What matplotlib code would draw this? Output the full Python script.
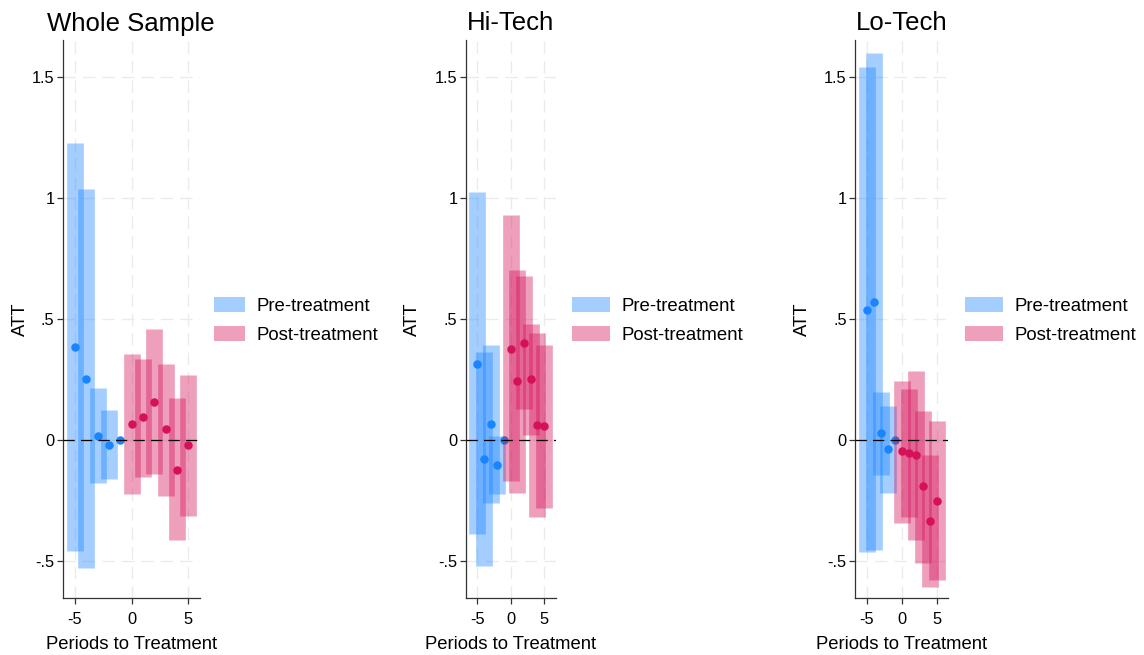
import numpy as np
import matplotlib
matplotlib.use("Agg")
import matplotlib.pyplot as plt
import matplotlib.patches as mpatches

plt.rcParams['font.family'] = ['Liberation Sans', 'DejaVu Sans']

# event time
periods = np.array([-5, -4, -3, -2, -1, 0, 1, 2, 3, 4, 5])

# Whole Sample
whole_att = [0.385, 0.255, 0.019, -0.018, 0.0, 0.066, 0.095, 0.159, 0.045, -0.121, -0.021]
whole_lo = [-0.458, -0.528, -0.178, -0.158, 0.0, -0.220, -0.150, -0.141, -0.228, -0.413, -0.314]
whole_hi = [1.228, 1.038, 0.215, 0.125, 0.0, 0.355, 0.335, 0.458, 0.314, 0.174, 0.269]

# Hi-Tech
hitech_att = [0.317, -0.078, 0.067, -0.102, 0.0, 0.378, 0.245, 0.403, 0.253, 0.062, 0.058]
hitech_lo = [-0.388, -0.520, -0.257, -0.220, 0.0, -0.169, -0.216, 0.129, 0.022, -0.318, -0.281]
hitech_hi = [1.026, 0.363, 0.392, 0.016, 0.0, 0.930, 0.704, 0.679, 0.481, 0.442, 0.395]

# Lo-Tech
lotech_att = [0.540, 0.572, 0.029, -0.037, 0.0, -0.044, -0.054, -0.062, -0.190, -0.332, -0.249]
lotech_lo = [-0.463, -0.454, -0.143, -0.216, 0.0, -0.340, -0.315, -0.413, -0.506, -0.604, -0.578]
lotech_hi = [1.541, 1.599, 0.201, 0.140, 0.0, 0.243, 0.212, 0.288, 0.119, -0.062, 0.078]

titles = ['Whole Sample', 'Hi-Tech', 'Lo-Tech']
ytick_vals = [-0.5, 0, 0.5, 1, 1.5]
ytick_labels = ['-.5', '0', '.5', '1', '1.5']
xtick_vals = [-5, 0, 5]

BLUE = '#1A85FF'
RED = '#D41159'
W, H = 1144, 655

fig = plt.figure(figsize=(W / 100, H / 100), dpi=100)

# pixel boxes of the three plot regions
panels = [
    dict(l=62.7, r=200.0, xlim=(-6.09, 6.03), title_x=47, leg_x=214, hl=1.65, ylab_x=20.5,
         data=(whole_att, whole_lo, whole_hi)),
    dict(l=465.7, r=556.0, xlim=(-6.74, 6.80), title_x=467, leg_x=572, hl=2.05, ylab_x=412,
         data=(hitech_att, hitech_lo, hitech_hi)),
    dict(l=855.0, r=948.3, xlim=(-6.67, 6.66), title_x=856, leg_x=965, hl=2.05, ylab_x=802,
         data=(lotech_att, lotech_lo, lotech_hi)),
]
top_px, bot_px = 40.0, 597.7

for p, title in zip(panels, titles):
    aw = p['r'] - p['l']
    ah = bot_px - top_px
    ax = fig.add_axes([p['l'] / W, 1 - bot_px / H, aw / W, ah / H])
    att, lo, hi = [np.array(a) for a in p['data']]
    pre = periods < 0
    post = ~pre

    ax.vlines(periods[pre], lo[pre], hi[pre], color=BLUE, alpha=0.4, lw=12, capstyle='butt', zorder=2)
    ax.plot(periods[pre], att[pre], 'o', color=BLUE, ms=6.1, mew=0, zorder=3)
    ax.vlines(periods[post], lo[post], hi[post], color=RED, alpha=0.4, lw=12, capstyle='butt', zorder=4)
    ax.axhline(0, color='black', lw=0.9, ls=(0, (9, 5)), zorder=5)
    ax.plot(periods[post], att[post], 'o', color=RED, ms=6.1, mew=0, zorder=6)

    ax.set_xlim(*p['xlim'])
    ax.set_ylim(-0.650, 1.653)
    ax.set_xticks(xtick_vals)
    ax.set_xticklabels([str(v) for v in xtick_vals])
    ax.set_yticks(ytick_vals)
    ax.set_yticklabels(ytick_labels)
    ax.grid(True, color='#ebebeb', lw=1.0, ls=(0, (9, 5)), zorder=0)
    ax.set_axisbelow(True)
    for s in ['top', 'right']:
        ax.spines[s].set_visible(False)
    for s in ['left', 'bottom']:
        ax.spines[s].set_color('#333333')
        ax.spines[s].set_linewidth(0.9)
    ax.tick_params(direction='out', length=4, width=0.9, color='#333333', labelsize=11.8)
    ax.tick_params(axis='y', pad=2)
    ax.tick_params(axis='x', pad=6)
    ax.set_xlabel('Periods to Treatment', fontsize=13.3, va='center')
    ax.xaxis.set_label_coords(0.5, (bot_px - 644.5) / ah)
    ax.set_ylabel('ATT', fontsize=13.3, va='center')
    ax.yaxis.set_label_coords((p['ylab_x'] - p['l']) / aw, 0.5)

    fig.text(p['title_x'] / W, 1 - 30.5 / H, title, fontsize=18.5, ha='left', va='baseline')

    handles = [mpatches.Patch(color=BLUE, alpha=0.4, lw=0),
               mpatches.Patch(color=RED, alpha=0.4, lw=0)]
    ax.legend(handles, ['Pre-treatment', 'Post-treatment'], loc='center left',
              bbox_to_anchor=(p['leg_x'] / W, 1 - 320.3 / H), bbox_transform=fig.transFigure,
              frameon=False, fontsize=13.4, handlelength=p['hl'], handleheight=0.9,
              handletextpad=0.62, labelspacing=0.56, borderpad=0, borderaxespad=0)

fig.savefig('out.png', dpi=100, facecolor='white')
